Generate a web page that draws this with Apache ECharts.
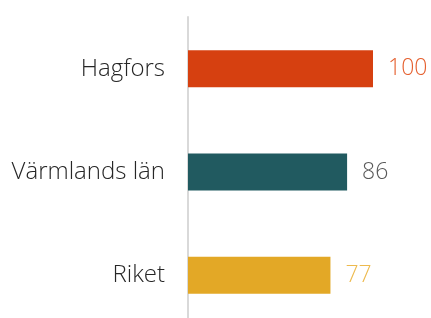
<!DOCTYPE html>
<html>
<head>
<meta charset="utf-8">
<script src="https://cdn.jsdelivr.net/npm/echarts@6/dist/echarts.min.js"></script>
<style>
    html, body {margin: 0; padding: 0; background: #fff;}
    #chart {width: 431px; height: 318px;}
</style>
</head>
<body>
<div id="chart"></div>
<script>
    //数据
    const categories = ['Hagfors', 'Värmlands län', 'Riket'];
    const values = [100, 86, 77];
    const barColors = ['#D64010', '#215A60', '#E3A826'];
    const labelColors = ['#E5602F', '#595959', '#EDBA4E'];

    const chart = echarts.init(document.getElementById('chart'));
    const option = {
        animation: false,
        grid: {
            left: 188,
            top: 17,
            width: 185,
            height: 310,
            outerBoundsMode: 'none',
        },
        xAxis: {
            type: 'value',
            min: 0,
            max: 100,
            show: false,
        },
        yAxis: {
            type: 'category',
            data: categories,
            inverse: true,
            axisLine: {lineStyle: {color: '#d9d9d9', width: 2}},
            axisTick: {show: false},
            axisLabel: {
                margin: 23,
                color: '#262626',
                fontSize: 24,
                fontFamily: 'Open Sans',
                fontWeight: 300,
            },
        },
        series: [
            {
                type: 'bar',
                barWidth: 37,
                data: values.map((v, i) => ({
                    value: v,
                    itemStyle: {color: barColors[i]},
                    label: {color: labelColors[i]},
                })),
                label: {
                    show: true,
                    position: 'right',
                    distance: 15,
                    fontSize: 23,
                    fontFamily: 'Open Sans',
                    fontWeight: 300,
                },
            }
        ]
    };
    chart.setOption(option);
</script>
</body>
</html>
